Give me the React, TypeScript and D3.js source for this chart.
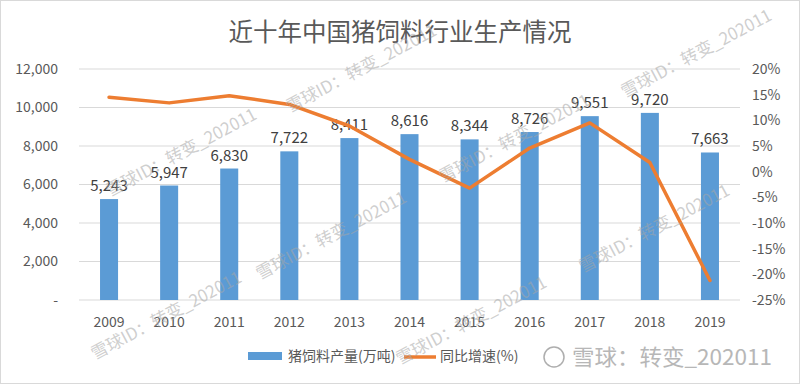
import React from 'react';
import * as d3 from 'd3';

// chart data
const years = ['2009', '2010', '2011', '2012', '2013', '2014', '2015', '2016', '2017', '2018', '2019'];
const output = [5243, 5947, 6830, 7722, 8411, 8616, 8344, 8726, 9551, 9720, 7663];
const growth = [14.5, 13.4, 14.8, 13.1, 8.9, 2.4, -3.2, 4.6, 9.5, 1.8, -21.2];
const leftTicks = [0, 2000, 4000, 6000, 8000, 10000, 12000];
const rightTicks = [20, 15, 10, 5, 0, -5, -10, -15, -20, -25];

const title = '近十年中国猪饲料行业生产情况';
const barName = '猪饲料产量(万吨)';
const lineName = '同比增速(%)';
const watermark = '雪球ID：转变_202011';

// decorative watermark anchors [x, y]
const marks: [number, number][] = [
  [110, 197], [290, 113], [260, 280], [95, 360], [443, 183], [400, 365], [583, 273], [625, 98],
];

const W = 800;
const H = 384;
const plot = { left: 79, right: 740, top: 69, bottom: 300 };
const font = '"Noto Sans CJK SC", "Noto Sans", sans-serif';
const blue = '#5B9BD5';
const orange = '#ED7D31';

const App = () => {
  const x = d3.scaleBand().domain(years).range([plot.left, plot.right]).paddingInner(0.7).paddingOuter(0.35);
  const y = d3.scaleLinear().domain([0, 12000]).range([plot.bottom, plot.top]);
  const y2 = d3.scaleLinear().domain([-25, 20]).range([plot.bottom, plot.top]);
  const fmt = d3.format(',');

  const cx = (d: string) => (x(d) ?? 0) + x.bandwidth() / 2;
  const line = d3
    .line<number>()
    .x((_, i) => cx(years[i]))
    .y((d) => y2(d));

  return (
    <>
      <style>{'body{margin:0}'}</style>
      <svg width={W} height={H} style={{ display: 'block', fontFamily: font }}>
        <rect x={0.5} y={0.5} width={W - 1} height={H - 1} fill="#fff" stroke="#d9d9d9" />
        <text x={W / 2} y={41} textAnchor="middle" fontSize={24.5} fill="#595959">
          {title}
        </text>

        {leftTicks.map((t) => (
          <g key={t}>
            <line x1={plot.left} x2={plot.right} y1={y(t)} y2={y(t)} stroke="#d9d9d9" />
            <text x={58} y={y(t)} dy="0.35em" textAnchor="end" fontSize={14} fill="#595959">
              {t === 0 ? '-' : fmt(t)}
            </text>
          </g>
        ))}

        {rightTicks.map((t) => (
          <text key={t} x={752} y={y2(t)} dy="0.35em" fontSize={14} fill="#595959">
            {t}%
          </text>
        ))}

        {years.map((yr, i) => (
          <g key={yr}>
            <rect x={x(yr)} y={y(output[i])} width={x.bandwidth()} height={plot.bottom - y(output[i])} fill={blue} />
            <text x={cx(yr)} y={y(output[i]) - 8} textAnchor="middle" fontSize={15} fill="#404040">
              {fmt(output[i])}
            </text>
            <text x={cx(yr)} y={327} textAnchor="middle" fontSize={14} fill="#595959">
              {yr}
            </text>
          </g>
        ))}

        <path d={line(growth) ?? ''} fill="none" stroke={orange} strokeWidth={3.5} strokeLinejoin="round" strokeLinecap="round" />

        <rect x={248} y={352} width={34} height={8} fill={blue} />
        <text x={288} y={356} dy="0.35em" fontSize={14} fill="#595959">
          {barName}
        </text>
        <line x1={404} x2={436} y1={357} y2={357} stroke={orange} strokeWidth={3.5} />
        <text x={440} y={356} dy="0.35em" fontSize={14} fill="#595959">
          {lineName}
        </text>

        {marks.map(([mx, my], i) => (
          <text key={i} x={mx} y={my} transform={`rotate(-28 ${mx} ${my})`} fontSize={17} fill="#a6a6a6" fillOpacity={0.55}>
            {watermark}
          </text>
        ))}

        <g opacity={0.8}>
          <circle cx={554} cy={357} r={10} fill="#fff" stroke="#9a9a9a" strokeWidth={1.5} />
          <text x={572} y={357} dy="0.35em" fontSize={22} fill="#a6a6a6" textLength={200} lengthAdjust="spacingAndGlyphs">
            雪球：转变_202011
          </text>
        </g>
      </svg>
    </>
  );
};

export default App;
